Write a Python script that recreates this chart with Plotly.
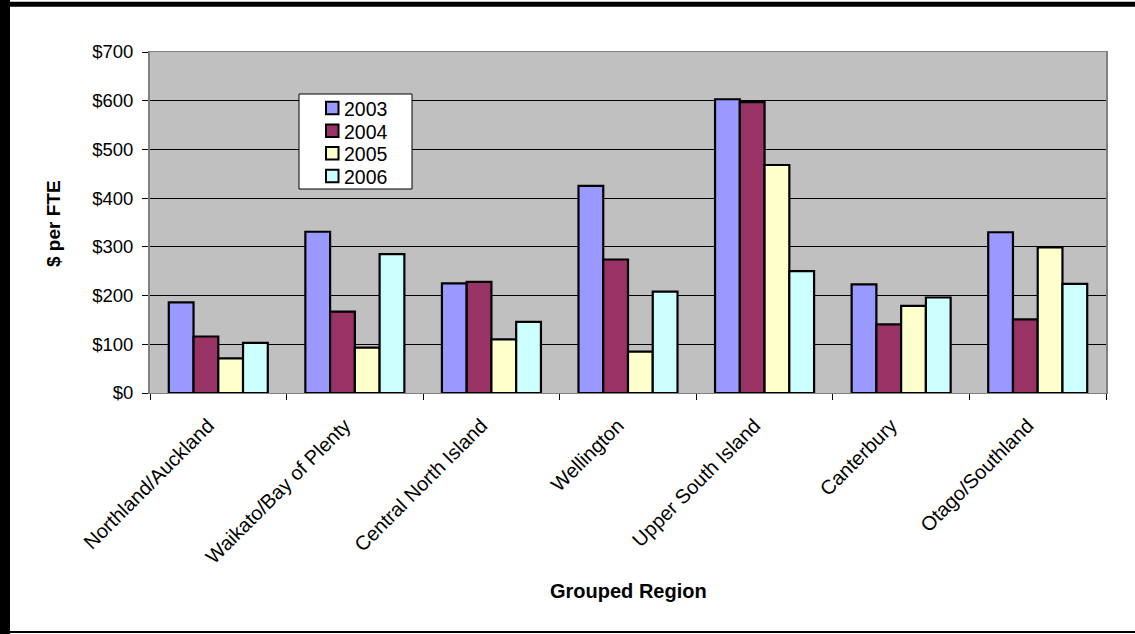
import plotly.graph_objects as go

regions = ["Northland/Auckland", "Waikato/Bay of Plenty", "Central North Island",
           "Wellington", "Upper South Island", "Canterbury", "Otago/Southland"]
years = ["2003", "2004", "2005", "2006"]
v2003 = [186, 331, 225, 425, 603, 223, 330]
v2004 = [116, 167, 228, 274, 597, 141, 151]
v2005 = [71, 93, 110, 85, 468, 179, 299]
v2006 = [103, 285, 146, 208, 250, 196, 224]
series = [v2003, v2004, v2005, v2006]
colors = ["#9999FF", "#993366", "#FFFFCC", "#CCFFFF"]
yticks = [0, 100, 200, 300, 400, 500, 600, 700]
yticklabels = ["$" + str(t) for t in yticks]

FONT = "Liberation Sans, Arial, sans-serif"
W, H = 1135, 634
L, R, T, B = 150, 29, 52, 241
PW, PH = W - L - R, H - T - B


def px(x):
    return (x - L) / PW


def py(y):
    return (H - B - y) / PH


fig = go.Figure()
for yr, vals, c in zip(years, series, colors):
    fig.add_trace(go.Bar(name=yr, x=regions, y=vals, showlegend=False,
                         marker=dict(color=c, line=dict(color="black", width=2.2))))

shapes = [
    # outer frame
    dict(type="rect", xref="paper", yref="paper", x0=px(0), x1=px(10), y0=py(0), y1=py(634),
         fillcolor="black", line=dict(width=0)),
    dict(type="rect", xref="paper", yref="paper", x0=px(0), x1=px(1135), y0=py(1.7), y1=py(6.7),
         fillcolor="black", line=dict(width=0)),
    dict(type="rect", xref="paper", yref="paper", x0=px(0), x1=px(1135), y0=py(631), y1=py(633),
         fillcolor="black", line=dict(width=0)),
    # legend box
    dict(type="rect", xref="paper", yref="paper", x0=px(299), x1=px(412), y0=py(94), y1=py(189),
         fillcolor="white", line=dict(color="black", width=1)),
]
annotations = [
    dict(text="<b>$ per FTE</b>", xref="paper", yref="paper", x=px(53), y=py(224),
         textangle=-90, showarrow=False, font=dict(size=19, family=FONT),
         xanchor="center", yanchor="middle"),
    dict(text="<b>Grouped Region</b>", xref="paper", yref="paper", x=px(628), y=py(591),
         showarrow=False, font=dict(size=20, family=FONT),
         xanchor="center", yanchor="middle"),
]
row_y = [108, 130.7, 153.3, 176]
for yr, c, ry in zip(years, colors, row_y):
    shapes.append(dict(type="rect", xref="paper", yref="paper",
                       x0=px(326), x1=px(338.5), y0=py(ry - 6.3), y1=py(ry + 6.3),
                       fillcolor=c, line=dict(color="black", width=2)))
    annotations.append(dict(text=yr, xref="paper", yref="paper", x=px(342), y=py(ry + 1),
                            showarrow=False, xanchor="left", yanchor="middle",
                            font=dict(size=19.5, family=FONT)))

fig.update_layout(
    width=W, height=H,
    margin=dict(l=L, r=R, t=T, b=B, autoexpand=False),
    paper_bgcolor="white", plot_bgcolor="#C0C0C0",
    barmode="group", bargap=0.275, bargroupgap=0,
    font=dict(family=FONT, size=18, color="black"),
    showlegend=False,
    xaxis=dict(tickangle=-45, tickson="boundaries", ticks="outside", ticklen=6,
               tickcolor="black", showline=True, linecolor="#808080", linewidth=1,
               mirror=True, showgrid=False, tickfont=dict(size=20),
               ticklabelstandoff=12, ticklabelshift=-10),
    yaxis=dict(range=[0, 700], tickvals=yticks, ticktext=yticklabels,
               ticks="outside", ticklen=6, tickcolor="black",
               showline=True, linecolor="#808080", linewidth=2, mirror=True,
               showgrid=True, gridcolor="black", gridwidth=1, zeroline=False,
               tickfont=dict(size=18.5), ticklabelstandoff=5),
    annotations=annotations,
    shapes=shapes,
)

fig.write_html("out.html", config={"displayModeBar": False},
               post_script="document.body.style.margin='0';document.body.style.padding='0';")
